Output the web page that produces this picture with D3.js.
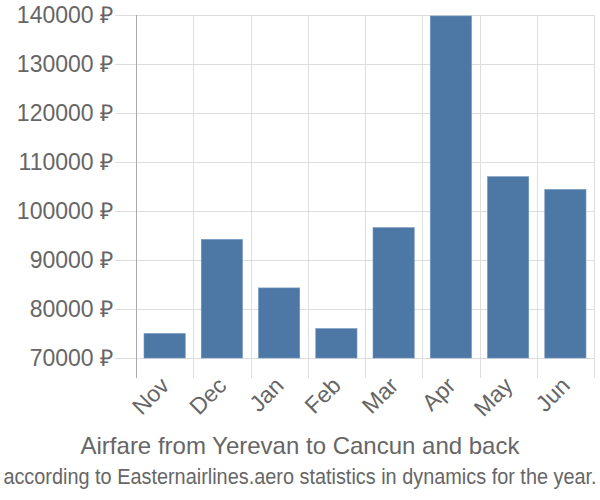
<!DOCTYPE html>
<html>
<head>
<meta charset="utf-8">
<script src="https://cdn.jsdelivr.net/npm/d3@7"></script>
<style>
  body { margin: 0; background: #fff; }
  text { font-family: "Liberation Sans", Arial, sans-serif; fill: #666; }
</style>
</head>
<body>
<div id="chart"></div>
<script>
// data
var months = ["Nov", "Dec", "Jan", "Feb", "Mar", "Apr", "May", "Jun"];
var prices = [75000, 94200, 84300, 76000, 96600, 139800, 107000, 104400];
var yTicks = [70000, 80000, 90000, 100000, 110000, 120000, 130000, 140000];

var full_width = 600, full_height = 500;
var margin = {top: 15, right: 6, bottom: 142, left: 136};
var width = full_width - margin.left - margin.right,
    height = full_height - margin.top - margin.bottom;

var svg = d3.select("#chart")
    .append("svg")
    .attr("width", full_width)
    .attr("height", full_height)
    .append("g")
    .attr("transform", "translate(" + margin.left + "," + margin.top + ")");

var x = d3.scaleBand()
    .domain(months)
    .range([0, width])
    .paddingInner(0.28)
    .paddingOuter(0.14);

var y = d3.scaleLinear()
    .domain([70000, 140000])
    .range([height, 0]);

// horizontal grid lines, extended left past the axis
svg.append("g")
    .selectAll("line")
    .data(yTicks)
    .enter().append("line")
    .attr("x1", -21)
    .attr("x2", width)
    .attr("y1", function(d) { return Math.round(y(d)) + 0.5; })
    .attr("y2", function(d) { return Math.round(y(d)) + 0.5; })
    .style("stroke", "#ddd")
    .style("stroke-width", 1);

// vertical grid lines at band edges, extended below
var step = x.step();
var edges = d3.range(months.length + 1);
svg.append("g")
    .selectAll("line")
    .data(edges)
    .enter().append("line")
    .attr("x1", function(i) { return Math.round(i * step) + 0.5; })
    .attr("x2", function(i) { return Math.round(i * step) + 0.5; })
    .attr("y1", 0)
    .attr("y2", height + 20)
    .style("stroke", function(i) { return i === 0 ? "#aaa" : "#ddd"; })
    .style("stroke-width", 1);

// bars
svg.selectAll(".bar")
    .data(months)
    .enter().append("rect")
    .attr("class", "bar")
    .attr("x", function(d) { return x(d); })
    .attr("y", function(d, i) { return y(prices[i]); })
    .attr("width", x.bandwidth())
    .attr("height", function(d, i) { return height - y(prices[i]); })
    .style("fill", "#4d78a6")
    .style("stroke", "#6f93bd")
    .style("stroke-width", 0.6);

// y labels
svg.append("g")
    .selectAll("text")
    .data(yTicks)
    .enter().append("text")
    .attr("x", -23)
    .attr("y", function(d) { return y(d); })
    .attr("dy", "0.36em")
    .attr("text-anchor", "end")
    .style("font-size", "23px")
    .text(function(d) { return d + " \u20bd"; });

// x labels, rotated
svg.append("g")
    .selectAll("text")
    .data(months)
    .enter().append("text")
    .attr("transform", function(d) {
        return "translate(" + (x(d) + x.bandwidth() / 2 + 6) + "," + (height + 29) + ") rotate(-45)";
    })
    .attr("text-anchor", "end")
    .style("font-size", "23px")
    .text(function(d) { return d; });

// title
var root = d3.select("#chart svg");
root.append("text")
    .attr("x", full_width / 2)
    .attr("y", 454)
    .attr("text-anchor", "middle")
    .style("font-size", "24px")
    .text("Airfare from Yerevan to Cancun and back");

// subtitle: narrow, tall lettering as in the reference
root.append("text")
    .attr("transform", "translate(" + (full_width / 2) + ",484) scale(1.105,1.24)")
    .attr("text-anchor", "middle")
    .style("font-size", "18px")
    .text("according to Easternairlines.aero statistics in dynamics for the year.");
</script>
</body>
</html>
